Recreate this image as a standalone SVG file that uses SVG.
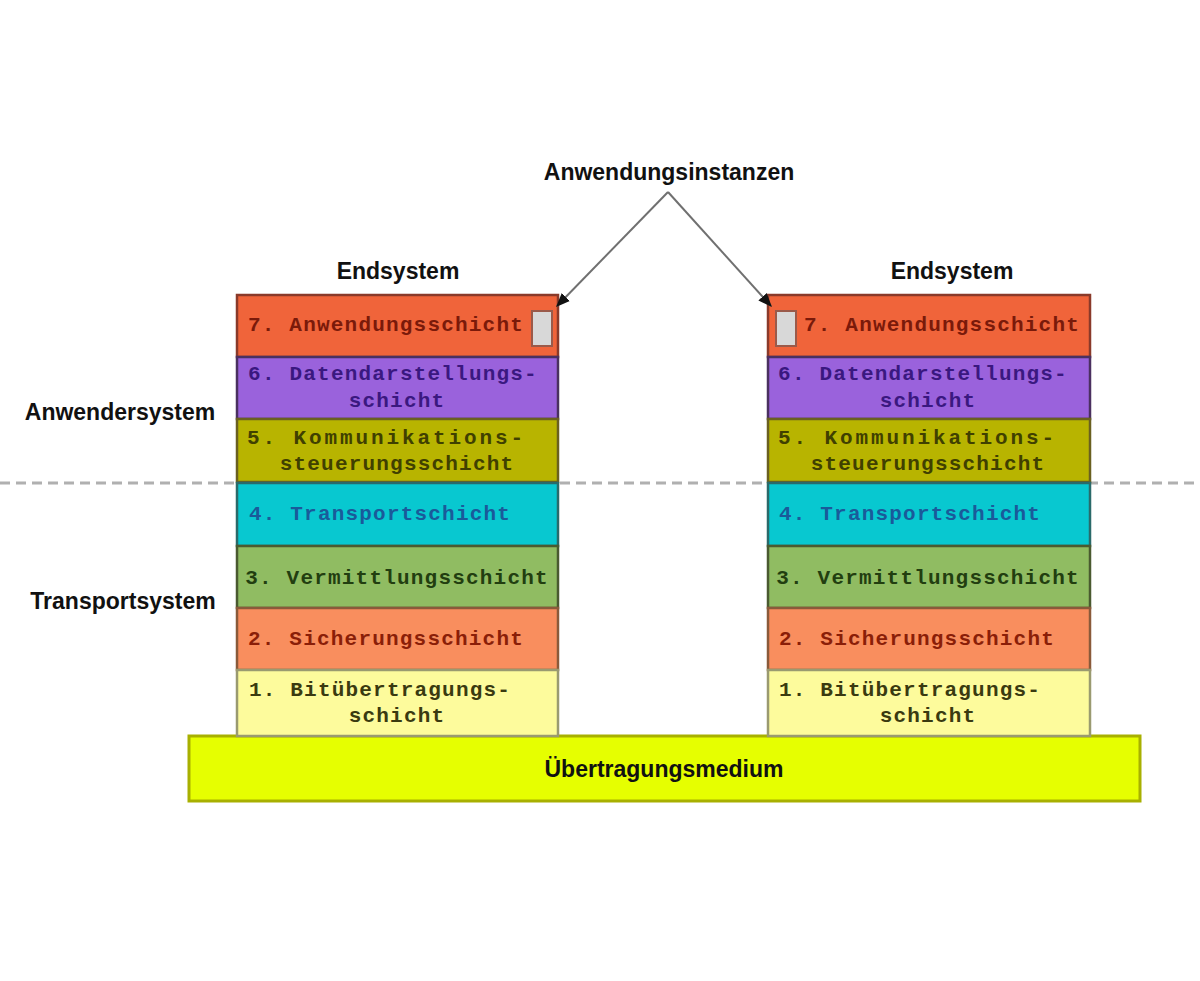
<svg xmlns="http://www.w3.org/2000/svg" width="1200" height="981" viewBox="0 0 1200 981">
<defs>
<style>
.t{font-family:"Liberation Sans",Arial,sans-serif;font-weight:bold;font-size:23px;fill:#111}
.m{font-family:"Liberation Mono","Courier New",monospace;font-weight:bold;font-size:21px;letter-spacing:1.2px;text-anchor:middle}
.s{text-anchor:start}
.w{letter-spacing:2.9px}
.l7{fill:#f0643a;stroke:#8a3a2a;stroke-width:2.5}
.l6{fill:#9a62dc;stroke:#4a3060;stroke-width:2.5}
.l5{fill:#b8b400;stroke:#6a6020;stroke-width:2.5}
.l4{fill:#08c8d0;stroke:#2a6a6a;stroke-width:2.5}
.l3{fill:#90bc62;stroke:#4a5a30;stroke-width:2.5}
.l2{fill:#f98e5e;stroke:#8a5a3a;stroke-width:2.5}
.l1{fill:#fdfb9c;stroke:#9a9a70;stroke-width:2.5}
.c7{fill:#7a1a0a}.c6{fill:#3a1880}.c5{fill:#404000}.c4{fill:#1a5a9a}.c3{fill:#223e10}.c2{fill:#8a1e08}.c1{fill:#3a3a10}
.inst{fill:#d8d8d8;stroke:#9a5a4a;stroke-width:2}
</style>
<marker id="ah" viewBox="0 0 10 10" refX="9" refY="5" markerWidth="7" markerHeight="7" orient="auto"><path d="M0,1 L10,5 L0,9 z" fill="#111"/></marker>
</defs>
<rect width="1200" height="981" fill="#ffffff"/>
<line x1="0" y1="483" x2="1200" y2="483" stroke="#b0b0b0" stroke-width="3" stroke-dasharray="10,6"/>

<g id="labels">
<text class="t" x="669" y="180" text-anchor="middle">Anwendungsinstanzen</text>
<text class="t" x="398" y="279" text-anchor="middle">Endsystem</text>
<text class="t" x="952" y="279" text-anchor="middle">Endsystem</text>
<text class="t" x="120" y="420" text-anchor="middle">Anwendersystem</text>
<text class="t" x="123" y="609" text-anchor="middle">Transportsystem</text>
</g>

<g id="medium">
<rect x="189" y="736" width="951" height="65" fill="#e6ff00" stroke="#a8b000" stroke-width="3"/>
<text class="t" x="664" y="777" text-anchor="middle">Übertragungsmedium</text>
</g>

<g id="left-stack">
<rect class="l7" x="237" y="295" width="321" height="62"/>
<rect class="inst" x="532" y="311" width="20" height="35"/>
<text class="m c7" x="386" y="331">7. Anwendungsschicht</text>
<rect class="l6" x="237" y="357" width="321" height="62"/>
<text class="m c6" x="393" y="380">6. Datendarstellungs-</text>
<text class="m c6" x="397" y="407">schicht</text>
<rect class="l5" x="237" y="419" width="321" height="63"/>
<text class="m c5 s w" x="247" y="444">5. Kommunikations-</text>
<text class="m c5" x="397" y="470">steuerungsschicht</text>
<rect class="l4" x="237" y="483" width="321" height="63"/>
<text class="m c4" x="380" y="520">4. Transportschicht</text>
<rect class="l3" x="237" y="546" width="321" height="62"/>
<text class="m c3" x="397" y="584">3. Vermittlungsschicht</text>
<rect class="l2" x="237" y="608" width="321" height="62"/>
<text class="m c2" x="386" y="645">2. Sicherungsschicht</text>
<rect class="l1" x="237" y="670" width="321" height="66"/>
<text class="m c1" x="380" y="696">1. Bitübertragungs-</text>
<text class="m c1" x="397" y="722">schicht</text>
</g>

<g id="right-stack">
<rect class="l7" x="768" y="295" width="322" height="62"/>
<rect class="inst" x="776" y="311" width="20" height="35"/>
<text class="m c7" x="942" y="331">7. Anwendungsschicht</text>
<rect class="l6" x="768" y="357" width="322" height="62"/>
<text class="m c6" x="923" y="380">6. Datendarstellungs-</text>
<text class="m c6" x="928" y="407">schicht</text>
<rect class="l5" x="768" y="419" width="322" height="63"/>
<text class="m c5 s w" x="778" y="444">5. Kommunikations-</text>
<text class="m c5" x="928" y="470">steuerungsschicht</text>
<rect class="l4" x="768" y="483" width="322" height="63"/>
<text class="m c4" x="910" y="520">4. Transportschicht</text>
<rect class="l3" x="768" y="546" width="322" height="62"/>
<text class="m c3" x="928" y="584">3. Vermittlungsschicht</text>
<rect class="l2" x="768" y="608" width="322" height="62"/>
<text class="m c2" x="917" y="645">2. Sicherungsschicht</text>
<rect class="l1" x="768" y="670" width="322" height="66"/>
<text class="m c1" x="910" y="696">1. Bitübertragungs-</text>
<text class="m c1" x="928" y="722">schicht</text>
</g>

<g id="connectors" stroke="#707070" stroke-width="2" fill="none">
<line x1="668" y1="192" x2="557" y2="306" marker-end="url(#ah)"/>
<line x1="668" y1="192" x2="771" y2="306" marker-end="url(#ah)"/>
</g>
</svg>
